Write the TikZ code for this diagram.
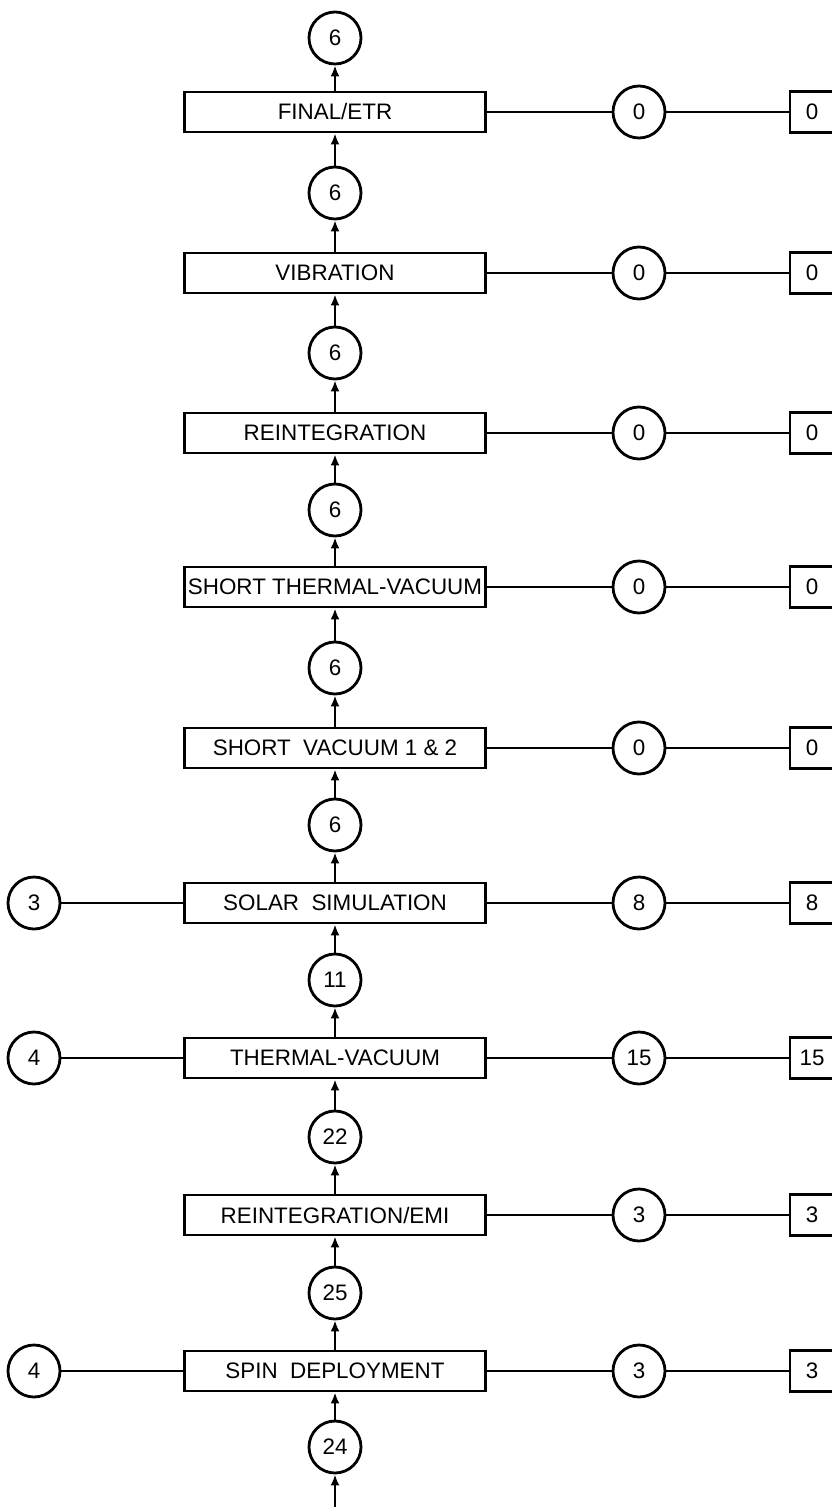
\documentclass[tikz,border=0pt]{standalone}
\usepackage{fontspec}
\setmainfont{Liberation Sans}
\usetikzlibrary{arrows.meta,positioning}

\begin{document}
\begin{tikzpicture}[x=0.5pt, y=-0.5pt, line width=1.4pt,
  every node/.style={font=\fontsize{11.2}{13}\selectfont},
  stage/.style={draw, fill=white, minimum width=150.5pt, minimum height=20pt, inner sep=1pt},
  count/.style={draw, circle, fill=white, minimum size=26pt, inner sep=0pt},
  tally/.style={draw, fill=white, minimum width=22pt, minimum height=20.5pt, inner sep=0pt},
  flow/.style={-{Latex[length=5.5pt,width=4.5pt]}}]
  \useasboundingbox (0,0) rectangle (831,1507);

  % test stages
  \node[stage] (fin)   at (335,112)  {FINAL/ETR};
  \node[stage] (vib)   at (335,273)  {VIBRATION};
  \node[stage] (reint) at (335,433)  {REINTEGRATION};
  \node[stage] (stv)   at (335,587)  {SHORT THERMAL-VACUUM};
  \node[stage] (sv)    at (335,748)  {SHORT\ \ VACUUM 1 \& 2};
  \node[stage] (solar) at (335,903)  {SOLAR\ \ SIMULATION};
  \node[stage] (tv)    at (335,1058) {THERMAL-VACUUM};
  \node[stage] (remi)  at (335,1215) {REINTEGRATION/EMI};
  \node[stage] (spin)  at (335,1371) {SPIN\ \ DEPLOYMENT};

  % counts between stages
  \node[count] (c0) at (335,38)   {6};
  \node[count] (c1) at (335,193)  {6};
  \node[count] (c2) at (335,353)  {6};
  \node[count] (c3) at (335,510)  {6};
  \node[count] (c4) at (335,668)  {6};
  \node[count] (c5) at (335,825)  {6};
  \node[count] (c6) at (335,980)  {11};
  \node[count] (c7) at (335,1137) {22};
  \node[count] (c8) at (335,1293) {25};
  \node[count] (c9) at (335,1447) {24};
  \coordinate (src) at (335,1507);

  \draw[flow] (src) -- (c9);
  \foreach \a/\b in {c9/spin, spin/c8, c8/remi, remi/c7, c7/tv, tv/c6, c6/solar,
    solar/c5, c5/sv, sv/c4, c4/stv, stv/c3, c3/reint, reint/c2, c2/vib, vib/c1,
    c1/fin, fin/c0}
    \draw[flow] (\a) -- (\b);

  % right side
  \foreach \s/\v in {fin/0, vib/0, reint/0, stv/0, sv/0, solar/8, tv/15, remi/3, spin/3} {
    \node[count] (r\s) at (639,0 |- \s) {\v};
    \node[tally] (t\s) at (812,0 |- \s) {\v};
    \draw (\s) -- (r\s);
    \draw (r\s) -- (t\s);
  }

  % left side
  \node[count] (lsolar) at (34,903)  {3};
  \node[count] (ltv)    at (34,1058) {4};
  \node[count] (lspin)  at (34,1371) {4};
  \draw (lsolar) -- (solar);
  \draw (ltv) -- (tv);
  \draw (lspin) -- (spin);
\end{tikzpicture}
\end{document}
